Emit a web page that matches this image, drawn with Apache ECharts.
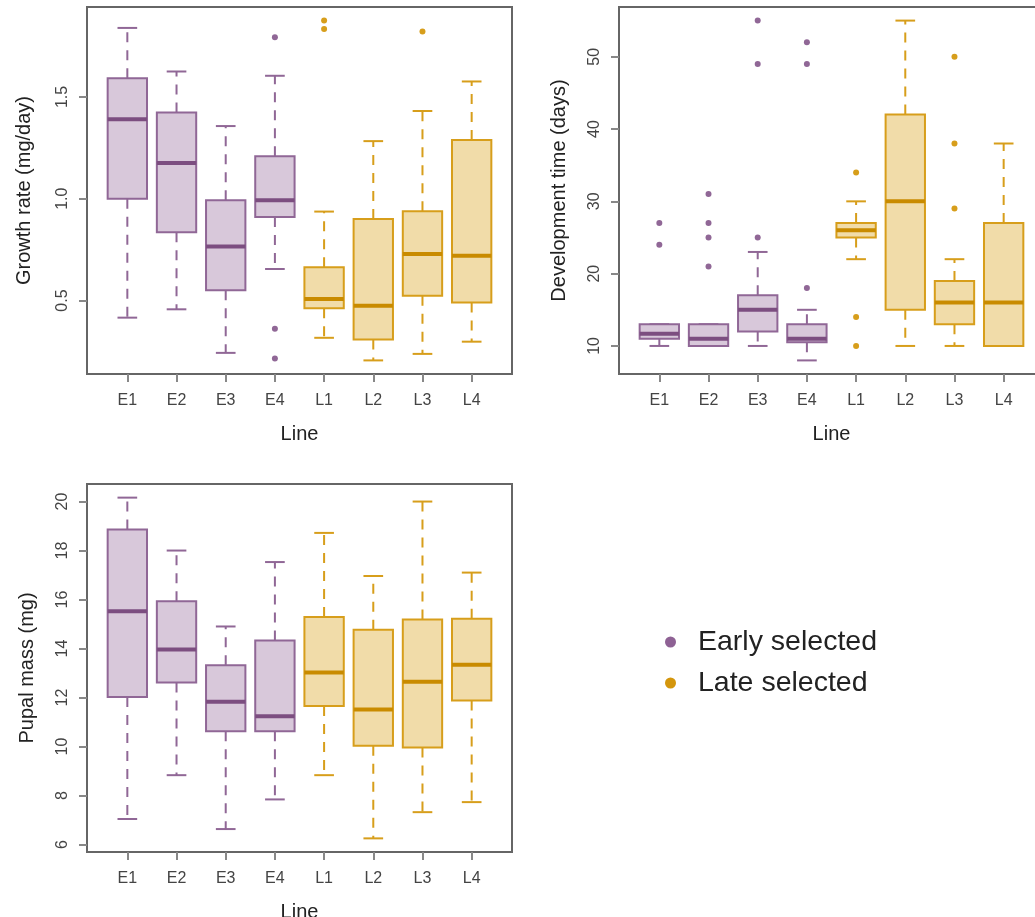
<!DOCTYPE html>
<html><head><meta charset="utf-8">
<script src="https://cdn.jsdelivr.net/npm/echarts@6/dist/echarts.min.js"></script>
<style>html,body{margin:0;padding:0;background:#fff}#c{width:1035px;height:917px}</style>
</head><body><div id="c"></div>
<script>
const categories = ['E1','E2','E3','E4','L1','L2','L3','L4'];
const groupNames = ['Early selected','Late selected'];

// Growth rate (mg/day)
const growthLow  = [0.416,0.457,0.243,0.655,0.317,0.206,0.238,0.298];
const growthQ1   = [1.000,0.836,0.551,0.910,0.462,0.309,0.523,0.490];
const growthMed  = [1.390,1.176,0.765,0.992,0.507,0.474,0.729,0.720];
const growthQ3   = [1.592,1.423,0.992,1.209,0.663,0.901,0.939,1.288];
const growthHigh = [1.839,1.625,1.357,1.604,0.937,1.283,1.431,1.576];
const growthOutliers = [['E4',1.793],['E4',0.362],['E4',0.215],['L1',1.875],['L1',1.834],['L3',1.822]];
const growthTicks = [0.5,1.0,1.5];

// Development time (days)
const devLow  = [10,10,10,8,22,10,10,10];
const devQ1   = [11,10,12,10.5,25,15,13,10];
const devMed  = [11.7,11,15,11,26,30,16,16];
const devQ3   = [13,13,17,13,27,42,19,27];
const devHigh = [13,13,23,15,30,55,22,38];
const devOutliers = [['E1',27],['E1',24],['E2',31],['E2',27],['E2',25],['E2',21],['E3',25],['E3',49],['E3',55],['E4',18],['E4',49],['E4',52],['L1',34],['L1',14],['L1',10],['L3',29],['L3',38],['L3',50]];
const devTicks = [10,20,30,40,50];

// Pupal mass (mg)
const massLow  = [7.04,8.83,6.63,7.84,8.83,6.25,7.32,7.73];
const massQ1   = [12.02,12.61,10.62,10.62,11.65,10.03,9.96,11.88];
const massMed  = [15.52,13.96,11.83,11.24,13.02,11.51,12.64,13.34];
const massQ3   = [18.86,15.93,13.32,14.33,15.29,14.77,15.18,15.22];
const massHigh = [20.16,18.00,14.90,17.53,18.72,16.96,20.00,17.10];
const massOutliers = [];
const massTicks = [6,8,10,12,14,16,18,20];

const FONT = '"Liberation Sans", Arial, sans-serif';
const COLORS = {
  'Early selected': {stroke:'#906796', fill:'#D8C8DA', med:'#7C4E80', dot:'#8E6194'},
  'Late selected':  {stroke:'#D79E1B', fill:'#F1DCA9', med:'#C98B00', dot:'#D4960C'}
};

function extent(arrs, outl) {
  let vals = [].concat(...arrs, outl.map(o => o[1]));
  let lo = Math.min(...vals), hi = Math.max(...vals), p = (hi - lo) * 0.04;
  return [lo - p, hi + p];
}
const xPad = 0.04 * categories.length;
const xMin = 0.5 - xPad, xMax = categories.length + 0.5 + xPad;
const xTicks = categories.map((c, i) => i + 1);

function boxRender(col) {
  return function (params, api) {
    const x = api.value(0);
    const lo = api.value(1), q1 = api.value(2), med = api.value(3), q3 = api.value(4), hi = api.value(5);
    const c = (a, b) => api.coord([a, b]);
    const hw = 0.4, cw = 0.2;
    const dash = {stroke: col.stroke, lineWidth: 2, lineDash: [10, 8], fill: null};
    const solid = {stroke: col.stroke, lineWidth: 2, fill: null};
    const ln = (a, b, s) => ({type: 'line', shape: {x1: a[0], y1: a[1], x2: b[0], y2: b[1]}, style: s});
    const tl = c(x - hw, q3), br = c(x + hw, q1);
    const children = [
      ln(c(x, q3), c(x, hi), dash),
      ln(c(x, q1), c(x, lo), dash),
      ln(c(x - cw, hi), c(x + cw, hi), solid),
      ln(c(x - cw, lo), c(x + cw, lo), solid),
      {type: 'rect', shape: {x: tl[0], y: tl[1], width: br[0] - tl[0], height: br[1] - tl[1]},
       style: {fill: col.fill, stroke: col.stroke, lineWidth: 2}},
      ln(c(x - hw, med), c(x + hw, med), {stroke: col.med, lineWidth: 4})
    ];
    return {type: 'group', children};
  };
}

const grids = [
  {left: 87, top: 7, width: 425, height: 367},
  {left: 619, top: 7, width: 425, height: 367},
  {left: 87, top: 484, width: 425, height: 368}
].map(g => Object.assign(g, {show: true, borderColor: '#666', borderWidth: 2, backgroundColor: 'transparent',
  containLabel: false, outerBoundsMode: 'none'}));

const panels = [
  {low: growthLow, q1: growthQ1, med: growthMed, q3: growthQ3, high: growthHigh, out: growthOutliers,
   ticks: growthTicks, name: 'Growth rate (mg/day)', fmt: v => v.toFixed(1), gap: 53},
  {low: devLow, q1: devQ1, med: devMed, q3: devQ3, high: devHigh, out: devOutliers,
   ticks: devTicks, name: 'Development time (days)', fmt: v => String(v), gap: 50},
  {low: massLow, q1: massQ1, med: massMed, q3: massQ3, high: massHigh, out: massOutliers,
   ticks: massTicks, name: 'Pupal mass (mg)', fmt: v => String(v), gap: 50}
];

const xAxes = [], yAxes = [], series = [];
panels.forEach((p, gi) => {
  xAxes.push({
    type: 'value', gridIndex: gi, min: xMin, max: xMax, splitLine: {show: false},
    axisLine: {show: false},
    axisTick: {show: true, customValues: xTicks, length: 8, lineStyle: {color: '#888', width: 2}},
    axisLabel: {customValues: xTicks, formatter: v => categories[Math.round(v) - 1], fontSize: 16,
      color: '#444', margin: 19, fontFamily: FONT},
    name: 'Line', nameLocation: 'middle', nameGap: 50, nameMoveOverlap: false,
    nameTextStyle: {fontSize: 20, color: '#222', fontFamily: FONT}
  });
  const ext = extent([p.low, p.high], p.out);
  yAxes.push({
    type: 'value', gridIndex: gi, min: ext[0], max: ext[1], splitLine: {show: false},
    axisLine: {show: false},
    axisTick: {show: true, customValues: p.ticks, length: 8, lineStyle: {color: '#888', width: 2}},
    axisLabel: {customValues: p.ticks, rotate: 90, formatter: p.fmt, fontSize: 16, color: '#444',
      margin: 16, fontFamily: FONT},
    name: p.name, nameLocation: 'middle', nameGap: p.gap, nameRotate: 90, nameMoveOverlap: false,
    nameTextStyle: {fontSize: 20, color: '#222', fontFamily: FONT}
  });
  groupNames.forEach((gname, k) => {
    const rows = [];
    categories.forEach((cat, i) => {
      if ((cat[0] === 'E') === (k === 0)) rows.push([i + 1, p.low[i], p.q1[i], p.med[i], p.q3[i], p.high[i]]);
    });
    series.push({
      type: 'custom', name: gname, xAxisIndex: gi, yAxisIndex: gi, renderItem: boxRender(COLORS[gname]),
      itemStyle: {color: COLORS[gname].dot}, encode: {x: 0, y: [1, 2, 3, 4, 5]}, data: rows, silent: true
    });
    series.push({
      type: 'scatter', name: gname, xAxisIndex: gi, yAxisIndex: gi, symbol: 'circle', symbolSize: 6,
      itemStyle: {color: COLORS[gname].stroke, opacity: 1}, silent: true,
      data: p.out.filter(o => (o[0][0] === 'E') === (k === 0)).map(o => [categories.indexOf(o[0]) + 1, o[1]])
    });
  });
});

const chart = echarts.init(document.getElementById('c'), null, {renderer: 'canvas'});
chart.setOption({
  animation: false,
  backgroundColor: '#fff',
  grid: grids,
  xAxis: xAxes,
  yAxis: yAxes,
  legend: {
    data: groupNames, orient: 'vertical', left: 665, top: 627, icon: 'circle', itemWidth: 11, itemHeight: 11,
    itemGap: 11, selectedMode: false, padding: 0,
    textStyle: {fontSize: 28.5, color: '#222', fontFamily: FONT, lineHeight: 30, padding: [0, 0, 0, 17]},
    itemStyle: {borderWidth: 0}
  },
  series
});
</script></body></html>
